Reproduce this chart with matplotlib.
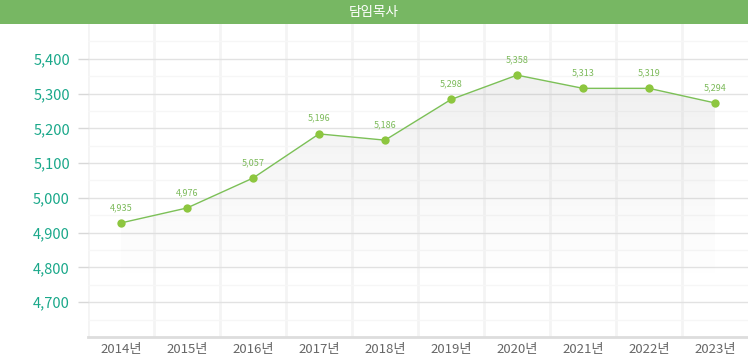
import numpy as np
import matplotlib
matplotlib.use('Agg')
import matplotlib.pyplot as plt
from matplotlib.patches import Rectangle

plt.rcParams['font.family'] = ['Noto Sans CJK KR', 'DejaVu Sans']

# 데이터
years = ['2014년', '2015년', '2016년', '2017년', '2018년',
         '2019년', '2020년', '2021년', '2022년', '2023년']
values = [4928, 4971, 5057, 5184, 5166, 5283, 5353, 5315, 5315, 5273]  # 점 위치
labels = ['4,935', '4,976', '5,057', '5,196', '5,186',
          '5,298', '5,358', '5,313', '5,319', '5,294']
yticks = [4700, 4800, 4900, 5000, 5100, 5200, 5300, 5400]
title = '담임목사'

W, H = 748, 358
fig = plt.figure(figsize=(W / 100, H / 100), dpi=100)

# 상단 제목 바
head_h = 24 / H
fig.add_artist(Rectangle((0, 1 - head_h), 1, head_h, transform=fig.transFigure,
                         facecolor='#77b763', edgecolor='none'))
fig.text(0.5, 1 - head_h / 2, title, color='white', fontsize=9.8,
         ha='center', va='center')

ax = fig.add_axes([88 / W, (H - 337) / H, 660 / W, (337 - 24) / H])
x = np.arange(len(years))

# 격자
for xv in np.arange(-0.5, len(years) - 0.5, 1):
    ax.axvline(xv, color='#f4f4f4', lw=2, zorder=0)
for yv in np.arange(4650, 5500, 100):
    ax.axhline(yv, color='#f6f6f6', lw=1, zorder=0)
for yv in yticks:
    ax.axhline(yv, color='#e2e2e2', lw=1, zorder=0)

# 그라데이션 영역
fill = ax.fill_between(x, values, 4600, facecolor='none', edgecolor='none')
grad = np.linspace(0.11, 0.0, 256).reshape(-1, 1)
rgba = np.zeros((256, 1, 4))
rgba[..., :3] = 0.45
rgba[..., 3] = grad
img = ax.imshow(rgba, aspect='auto', extent=[x[0], x[-1], 4760, 5360],
                origin='upper', zorder=1)
img.set_clip_path(fill.get_paths()[0], transform=ax.transData)
ax.set_xlim(-0.5, len(years) - 0.5)
ax.set_ylim(4600, 5500)

# 선과 점
ax.plot(x, values, color='#7cc057', lw=1, zorder=3)
ax.plot(x, values, 'o', color='#8dc63f', ms=6, mec='none', zorder=4)
for xi, v, lb in zip(x, values, labels):
    ax.annotate(lb, (xi, v), xytext=(0, 8), textcoords='offset points',
                ha='center', va='bottom', fontsize=6.5, color='#7cba5a')

# 축
ax.set_yticks(yticks)
ax.set_yticklabels(['{:,}'.format(v) for v in yticks], color='#1aa88a', fontsize=10.5)
ax.tick_params(axis='y', length=7, width=1, color='#d8d8d8', pad=6)
ax.set_xticks(x)
ax.set_xticklabels(years, color='#666666', fontsize=9.5)
ax.tick_params(axis='x', length=0, pad=4)
for s in ['top', 'right', 'left']:
    ax.spines[s].set_visible(False)
ax.spines['bottom'].set_color('#dddddd')
ax.spines['bottom'].set_linewidth(2)

fig.savefig('out.png', dpi=100)
